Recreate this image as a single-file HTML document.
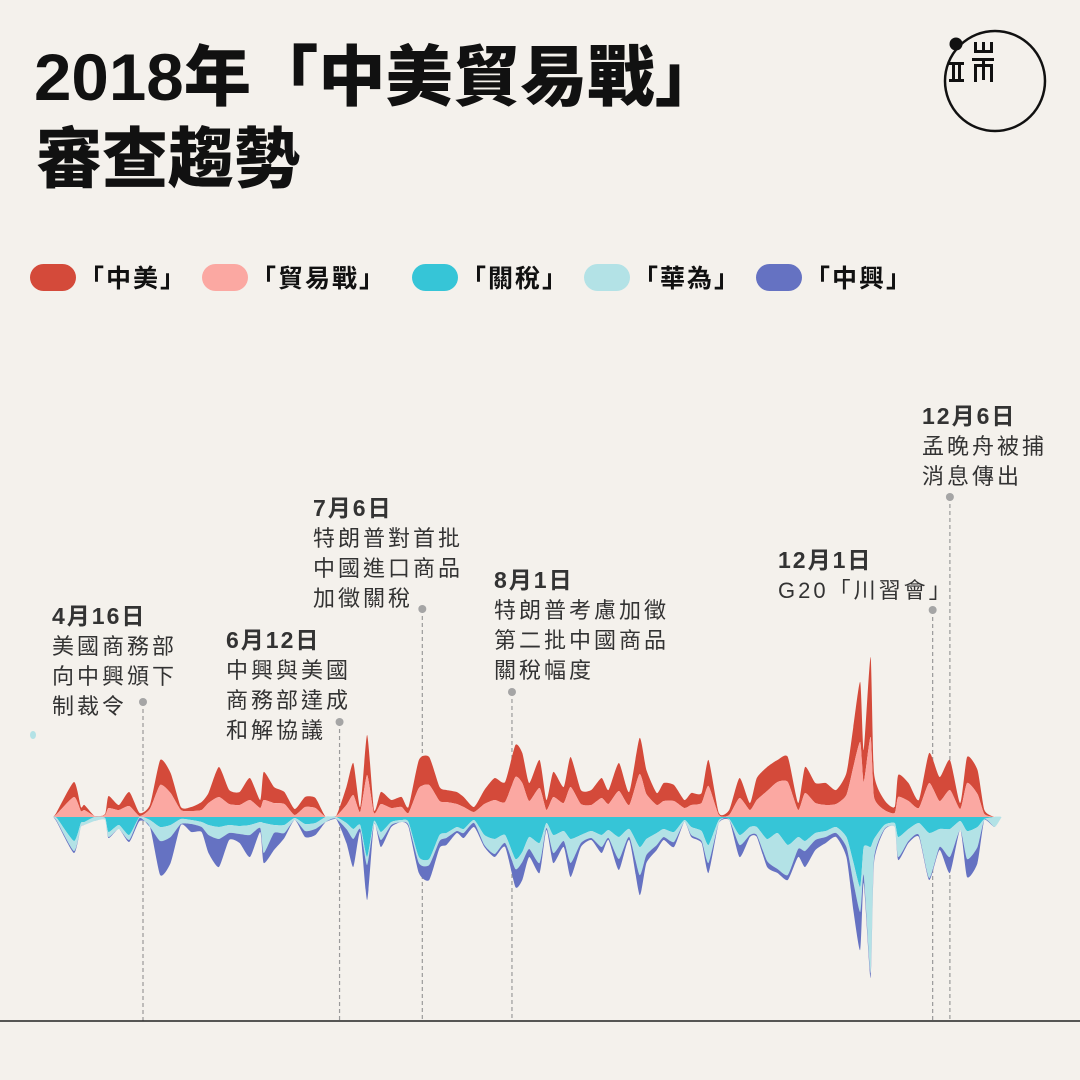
<!DOCTYPE html>
<html><head><meta charset="utf-8"><style>
html,body{margin:0;padding:0;background:#f4f1ec;}
svg{display:block;}
.t{font-family:"Liberation Sans","Noto Sans CJK TC",sans-serif;}
.ttl{font-weight:900;font-size:66px;fill:#111;}
.lg{font-weight:700;font-size:25px;fill:#111;letter-spacing:2px;}
.ad{font-weight:700;font-size:23px;fill:#333;letter-spacing:2px;}
.at{font-size:22px;fill:#333;letter-spacing:3px;}
</style></head><body>
<svg id="chart" width="1080" height="1080" viewBox="0 0 1080 1080">
<rect width="1080" height="1080" fill="#f4f1ec"/>
<text class="t ttl" x="34" y="100" textLength="688" lengthAdjust="spacingAndGlyphs">2018年「中美貿易戰」</text>
<text class="t ttl" x="36" y="182">審查趨勢</text>
<g>
<circle cx="995" cy="81" r="50" fill="none" stroke="#111" stroke-width="2.5"/>
<circle cx="956" cy="44" r="6.5" fill="#111"/>
<rect x="974" y="42" width="3" height="10" fill="#111"/><rect x="982" y="42" width="3" height="10" fill="#111"/><rect x="990" y="42" width="3" height="10" fill="#111"/><rect x="974" y="50" width="19" height="3" fill="#111"/>
<rect x="972" y="58" width="22" height="3" fill="#111"/><rect x="974" y="64" width="3" height="18" fill="#111"/><rect x="974" y="64" width="19" height="3" fill="#111"/><rect x="990" y="64" width="3" height="18" fill="#111"/><rect x="982" y="58" width="3" height="22" fill="#111"/>
<rect x="949" y="62" width="15" height="3" fill="#111"/><rect x="949" y="79" width="15" height="3" fill="#111"/><rect x="952" y="62" width="3" height="20" fill="#111"/><rect x="958" y="62" width="3" height="20" fill="#111"/>
</g>
<g id="legend"></g>
<g id="annos"></g>
<g id="stream"></g>
<line x1="0" y1="1021" x2="1080" y2="1021" stroke="#222" stroke-width="1.5"/>
<ellipse cx="33" cy="735" rx="3" ry="4" fill="#b3e2e6"/>
</svg>
<script>
// day-of-year for each sample
const days=[80,81,86,88,89,92,95,96,99,102,105,108,111,114,117,120,123,125,128,131,134,137,140,141,144,147,150,153,156,159,162,165,167,169,171,173,175,178,181,183,186,189,192,194,197,199,202,205,208,211,214,216,218,221,223,225,228,230,233,236,239,241,244,247,250,252,255,257,260,263,265,268,270,273,276,279,282,284,287,290,293,296,298,301,304,307,310,312,314,315,317,318,321,324,325,328,331,334,337,340,343,345,348,350,353,355];
const zhongmei=[0,2,15,4,5,0,1,12,5,14,3,4,25,20,3,4,8,10,30,14,13,22,8,28,16,12,6,10,10,0,0,18,32,5,40,3,12,8,10,6,28,28,14,12,12,10,5,14,22,20,32,30,18,28,10,25,16,30,14,15,20,14,28,13,36,24,12,18,16,8,12,10,26,2,5,20,7,22,24,22,25,7,26,20,22,14,22,40,60,32,80,24,10,6,22,18,8,30,24,30,6,26,24,4,0,0];
const maoyi=[0,3,20,6,7,1,2,9,7,11,1,8,32,24,7,6,7,14,20,13,12,17,9,17,14,13,2,10,9,0,1,12,22,5,42,4,13,9,10,4,29,32,16,15,13,10,5,13,17,15,40,34,16,29,7,20,14,30,13,12,19,13,26,12,43,23,12,16,16,9,12,14,31,2,2,19,7,17,26,35,35,7,24,14,12,13,22,50,75,35,80,20,7,4,20,16,9,34,16,27,8,34,23,3,0,0];
const guanshui=[0,1,24,6,5,0,1,15,8,18,0,3,10,8,2,3,5,8,10,8,9,8,5,6,8,8,1,7,6,0,0,6,12,8,40,4,15,5,3,5,40,42,18,16,10,12,3,18,22,18,42,35,20,26,6,18,14,22,18,14,18,13,20,12,30,22,16,12,15,3,10,14,28,3,2,18,10,10,22,16,28,20,24,16,14,10,20,45,70,30,30,22,8,6,20,12,6,16,12,12,4,14,10,2,0,0];
const huawei=[0,3,10,4,3,4,2,5,4,5,1,7,14,12,5,4,5,10,12,8,8,10,6,30,8,8,2,7,6,5,2,6,10,4,8,3,8,3,2,3,6,6,6,5,4,4,3,10,15,8,10,10,12,20,5,18,10,24,8,7,12,8,22,8,28,16,12,8,10,2,8,10,18,3,1,10,8,8,22,36,30,12,10,7,6,6,10,20,25,28,126,20,4,4,20,12,12,45,18,28,9,28,20,1,10,0];
const zte=[0,1,2,0,0,0,0,1,0,2,3,0,34,26,1,8,5,18,28,7,9,22,4,10,17,5,0,6,6,0,0,14,28,3,35,0,7,2,0,2,10,15,7,7,2,5,4,2,3,4,18,18,8,10,2,10,6,14,4,2,6,2,11,3,20,8,5,3,5,0,2,2,10,0,0,12,2,2,6,4,5,8,16,10,6,4,10,28,38,8,5,4,1,0,3,2,2,2,3,16,0,18,16,0,0,0];
const seriesNames=['中美','貿易戰','關稅','華為','中興'];
const seriesColors=['#d44a3a','#fba8a2','#36c5d7','#b3e2e6','#6572c2'];
const legendX=[30,202,412,584,756];
const events=[
 {day:106,date:'4月16日',lines:['美國商務部','向中興頒下','制裁令'],tx:52,ty:624,dy:702},
 {day:163,date:'6月12日',lines:['中興與美國','商務部達成','和解協議'],tx:226,ty:648,dy:722},
 {day:187,date:'7月6日',lines:['特朗普對首批','中國進口商品','加徵關稅'],tx:313,ty:516,dy:609},
 {day:213,date:'8月1日',lines:['特朗普考慮加徵','第二批中國商品','關稅幅度'],tx:494,ty:588,dy:692},
 {day:335,date:'12月1日',lines:['G20「川習會」'],tx:778,ty:568,dy:610},
 {day:340,date:'12月6日',lines:['孟晚舟被捕','消息傳出'],tx:922,ty:424,dy:497}
];
const NS='http://www.w3.org/2000/svg';
const x=d=>143+(d-106)/0.29;
const y0=817, k=1;
const yv=v=>y0-v*k;
function mk(t,a,p){const e=document.createElementNS(NS,t);for(const q in a)e.setAttribute(q,a[q]);p.appendChild(e);return e;}
const lg=document.getElementById('legend');
seriesNames.forEach((n,i)=>{
 const r=mk('rect',{x:legendX[i],y:264,width:46,height:27,rx:13.5,fill:seriesColors[i]},lg);
 
 
 const t=mk('text',{x:legendX[i]+49,y:287,class:'t lg'},lg);t.textContent='「'+n+'」';
 
 
});
const N=days.length;
const up1=[],up2=[],dn1=[],dn2=[],dn3=[];
for(let i=0;i<N;i++){up1.push(maoyi[i]);up2.push(maoyi[i]+zhongmei[i]);dn1.push(-guanshui[i]);dn2.push(-guanshui[i]-huawei[i]);dn3.push(-guanshui[i]-huawei[i]-zte[i]);}
const zero=days.map(()=>0);
function pts(arr){return days.map((d,i)=>[x(d),yv(arr[i])]);}
function curve(p){let s='';for(let i=0;i<p.length-1;i++){const p0=p[Math.max(0,i-1)],p1=p[i],p2=p[i+1],p3=p[Math.min(p.length-1,i+2)];const t=0.1;
 const c1=[p1[0]+(p2[0]-p0[0])*t,p1[1]+(p2[1]-p0[1])*t],c2=[p2[0]-(p3[0]-p1[0])*t,p2[1]-(p3[1]-p1[1])*t];
 s+=(i==0?'M'+p1[0].toFixed(1)+','+p1[1].toFixed(1):'')+'C'+c1[0].toFixed(1)+','+c1[1].toFixed(1)+' '+c2[0].toFixed(1)+','+c2[1].toFixed(1)+' '+p2[0].toFixed(1)+','+p2[1].toFixed(1);}return s;}
function band(top,bot){const a=pts(top),b=pts(bot).reverse();return curve(a)+'L'+b[0][0].toFixed(1)+','+b[0][1].toFixed(1)+curve(b).replace(/^M[^C]*/,'')+'Z';}
const st=document.getElementById('stream');
const layers=[[up2,up1,0],[up1,zero,1],[zero,dn1,2],[dn1,dn2,3],[dn2,dn3,4]];
layers.forEach(l=>{const p=mk('path',{d:band(l[0],l[1]),fill:seriesColors[l[2]]},st);
 
 });
const an=document.getElementById('annos');
events.forEach((e,i)=>{
 const X=x(e.day);
 const ln=mk('line',{x1:X,y1:e.dy,x2:X,y2:1021,stroke:'#9a9a9a','stroke-width':1.2,'stroke-dasharray':'4,3'},an);
 
 
 const c=mk('circle',{cx:X,cy:e.dy,r:4,fill:'#a5a5a5'},an);
 
 
 const t=mk('text',{x:e.tx,y:e.ty,class:'t ad'},an);t.textContent=e.date;
 
 
 e.lines.forEach((s,j)=>{const u=mk('text',{x:e.tx,y:e.ty+30*(j+1),class:'t at'},an);u.textContent=s;
  
  });
});
</script>
</body></html>
